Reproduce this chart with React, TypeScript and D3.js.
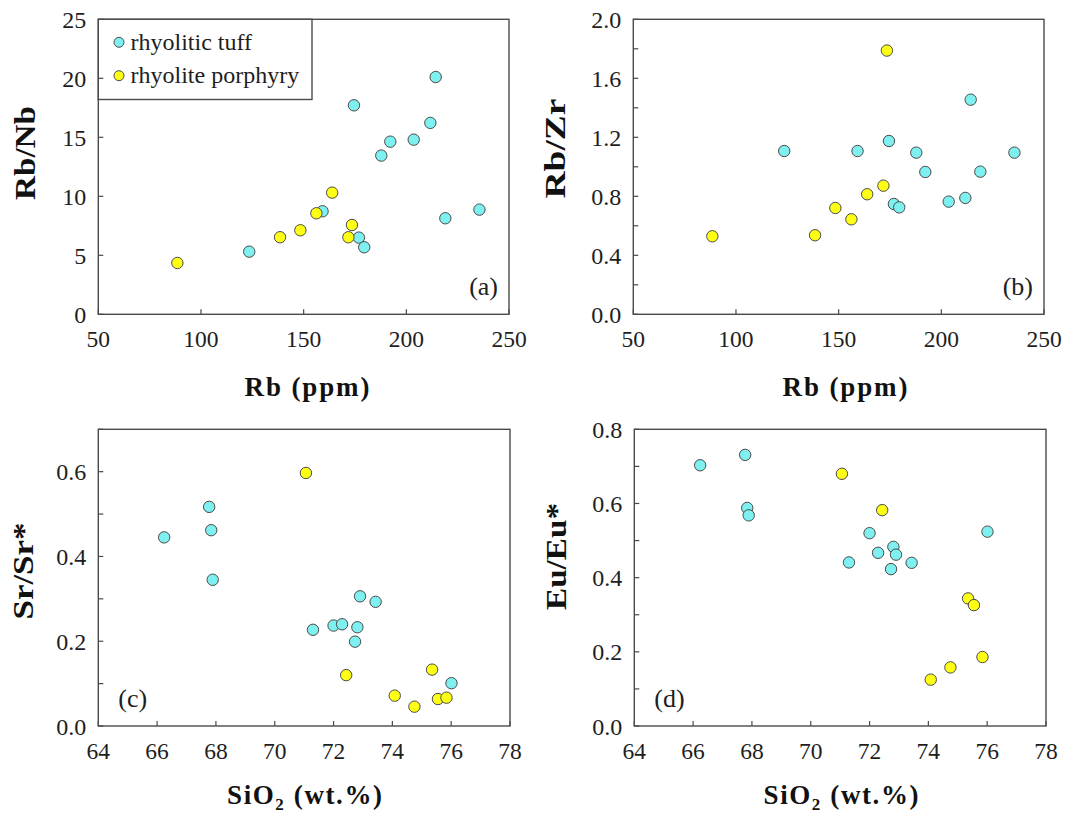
import React from "react";
import * as d3 from "d3";

// ---- Data ----
const rbTuff = [123.5, 159.2, 174.5, 176.9, 179.5, 187.8, 192.2, 203.6, 211.7, 214.3, 219.0, 235.6];
const rbNbTuff = [5.31, 8.73, 17.71, 6.5, 5.68, 13.45, 14.63, 14.8, 16.22, 20.11, 8.14, 8.87];
const rbZrTuff = [1.107, 1.107, 1.175, 0.748, 0.725, 1.096, 0.965, 0.764, 0.789, 1.455, 0.967, 1.096];

const rbPorph = [88.5, 138.5, 148.4, 156.2, 163.9, 171.8, 173.5];
const rbNbPorph = [4.35, 6.53, 7.12, 8.56, 10.31, 6.53, 7.57];
const rbZrPorph = [0.529, 0.536, 0.721, 0.644, 0.814, 0.872, 1.788];

const sioTuff = [66.24, 67.77, 67.84, 67.89, 71.3, 72.0, 72.29, 72.73, 72.81, 72.9, 73.43, 76.01];
const srTuff = [0.445, 0.517, 0.462, 0.345, 0.227, 0.237, 0.24, 0.199, 0.233, 0.306, 0.293, 0.101];
const euTuff = [0.703, 0.731, 0.588, 0.568, 0.441, 0.52, 0.467, 0.423, 0.483, 0.462, 0.44, 0.524];

const sioPorph = [71.06, 72.43, 74.08, 74.75, 75.35, 75.55, 75.84];
const srPorph = [0.597, 0.12, 0.0716, 0.0456, 0.133, 0.0637, 0.0669];
const euPorph = [0.68, 0.582, 0.125, 0.158, 0.344, 0.326, 0.186];

const seriesNames = ["rhyolitic tuff", "rhyolite porphyry"];
const rbTicks = [50, 100, 150, 200, 250];
const sioTicks = [64, 66, 68, 70, 72, 74, 76, 78];

const CYAN = "#7ef0f0";
const YELLOW = "#ffff14";
const FRAME = "#4a4a4a";
const SERIF = "Liberation Serif, Tinos, DejaVu Serif, serif";

type PanelProps = {
  x0: number; x1: number; y0: number; y1: number;
  xDomain: [number, number]; yDomain: [number, number];
  xTicks: number[]; yTicks: number[]; yLabelEvery: number; yFmt: (v: number) => string;
  tuffX: number[]; tuffY: number[]; porX: number[]; porY: number[];
  tag: string; tagLeft: boolean;
  xTitle: React.ReactNode; xTitleCx: number; xTitleY: number; xTitleLen: number;
  yTitle: string; yTitleX: number; yTitleCy: number; yTitleLen: number;
  legend?: boolean;
};

function Panel(p: PanelProps) {
  const xs = d3.scaleLinear().domain(p.xDomain).range([p.x0, p.x1]);
  const ys = d3.scaleLinear().domain(p.yDomain).range([p.y1, p.y0]);
  const TL = 5;
  const R = 5.7;
  const txt = { fontFamily: SERIF } as React.CSSProperties;
  return (
    <g>
      <rect x={p.x0} y={p.y0} width={p.x1 - p.x0} height={p.y1 - p.y0} fill="none" stroke={FRAME} strokeWidth={1.4} />
      {p.xTicks.map((t) => (
        <g key={"xt" + t}>
          <line x1={xs(t)} x2={xs(t)} y1={p.y1} y2={p.y1 - TL} stroke={FRAME} strokeWidth={1.2} />
          <text x={xs(t)} y={p.y1 + 33} textAnchor="middle" style={txt} fontSize={23.5} fill="#1e1e1e">
            {t}
          </text>
        </g>
      ))}
      {p.yTicks.map((t, i) => (
        <g key={"yt" + i}>
          <line x1={p.x0} x2={p.x0 + TL} y1={ys(t)} y2={ys(t)} stroke={FRAME} strokeWidth={1.2} />
          {i % p.yLabelEvery === 0 ? (
            <text x={p.x0 - 12} y={ys(t)} dy="0.36em" textAnchor="end" style={txt} fontSize={24} fill="#1e1e1e">
              {p.yFmt(t)}
            </text>
          ) : null}
        </g>
      ))}
      {p.tuffX.map((v, i) => (
        <circle key={"c" + i} cx={xs(v)} cy={ys(p.tuffY[i])} r={R} fill={CYAN} stroke="#4a4a4a" strokeWidth={1} />
      ))}
      {p.porX.map((v, i) => (
        <circle key={"y" + i} cx={xs(v)} cy={ys(p.porY[i])} r={R} fill={YELLOW} stroke="#4a4a4a" strokeWidth={1} />
      ))}
      <text
        x={p.tagLeft ? p.x0 + 20 : p.x1 - 11}
        y={p.y1 - 19}
        textAnchor={p.tagLeft ? "start" : "end"}
        style={txt}
        fontSize={26}
        fill="#1e1e1e"
      >
        {p.tag}
      </text>
      {p.legend ? (
        <g>
          <rect x={p.x0} y={p.y0} width={312 - p.x0} height={99.5 - p.y0} fill="none" stroke={FRAME} strokeWidth={1.4} />
          <circle cx={119} cy={42.3} r={5} fill={CYAN} stroke="#4a4a4a" strokeWidth={1} />
          <circle cx={119} cy={75.7} r={5} fill={YELLOW} stroke="#4a4a4a" strokeWidth={1} />
          <text x={130.5} y={49.5} style={txt} fontSize={24} fill="#1e1e1e">{seriesNames[0]}</text>
          <text x={130.5} y={82.5} style={txt} fontSize={24} fill="#1e1e1e">{seriesNames[1]}</text>
        </g>
      ) : null}
      <text
        x={p.xTitleCx}
        y={p.xTitleY}
        textAnchor="middle"
        style={txt}
        fontWeight="bold"
        fontSize={27}
        fill="#111"
        textLength={p.xTitleLen}
      >
        {p.xTitle}
      </text>
      <text
        transform={`translate(${p.yTitleX},${p.yTitleCy}) rotate(-90)`}
        textAnchor="middle"
        style={txt}
        fontWeight="bold"
        fontSize={30}
        fill="#111"
        textLength={p.yTitleLen}
        lengthAdjust="spacingAndGlyphs"
      >
        {p.yTitle}
      </text>
    </g>
  );
}

const rbTitle = "Rb (ppm)";
const sioTitle = (
  <>
    SiO<tspan fontSize={17} dy={6}>2</tspan>
    <tspan dy={-6}> (wt.%)</tspan>
  </>
);

export default function App() {
  const r25 = d3.range(0, 25.001, 5);
  const r2 = d3.range(0, 11).map((i) => i * 0.2);
  const r07 = d3.range(0, 8).map((i) => i * 0.1);
  const r08 = d3.range(0, 9).map((i) => i * 0.1);
  return (
    <svg width={1072} height={814} style={{ position: "absolute", left: 0, top: 0, background: "#fff" }}>
      <rect x={0} y={0} width={1072} height={814} fill="#fff" />
      <Panel
        x0={98.3} x1={509} y0={19.3} y1={314.3}
        xDomain={[50, 250]} yDomain={[0, 25]}
        xTicks={rbTicks} yTicks={r25} yLabelEvery={1} yFmt={(v) => String(v)}
        tuffX={rbTuff} tuffY={rbNbTuff} porX={rbPorph} porY={rbNbPorph}
        tag="(a)" tagLeft={false}
        xTitle={rbTitle} xTitleCx={307} xTitleY={396} xTitleLen={125}
        yTitle="Rb/Nb" yTitleX={35} yTitleCy={153} yTitleLen={94}
        legend
      />
      <Panel
        x0={633.3} x1={1044} y0={19.3} y1={314.3}
        xDomain={[50, 250]} yDomain={[0, 2]}
        xTicks={rbTicks} yTicks={r2} yLabelEvery={2} yFmt={(v) => v.toFixed(1)}
        tuffX={rbTuff} tuffY={rbZrTuff} porX={rbPorph} porY={rbZrPorph}
        tag="(b)" tagLeft={false}
        xTitle={rbTitle} xTitleCx={845} xTitleY={396} xTitleLen={125}
        yTitle="Rb/Zr" yTitleX={565} yTitleCy={148.5} yTitleLen={100}
      />
      <Panel
        x0={98.3} x1={510} y0={429.3} y1={726}
        xDomain={[64, 78]} yDomain={[0, 0.7]}
        xTicks={sioTicks} yTicks={r07} yLabelEvery={2} yFmt={(v) => v.toFixed(1)}
        tuffX={sioTuff} tuffY={srTuff} porX={sioPorph} porY={srPorph}
        tag="(c)" tagLeft={true}
        xTitle={sioTitle} xTitleCx={304.5} xTitleY={804} xTitleLen={155}
        yTitle="Sr/Sr*" yTitleX={33} yTitleCy={571} yTitleLen={97}
      />
      <Panel
        x0={634.3} x1={1046} y0={429.3} y1={726}
        xDomain={[64, 78]} yDomain={[0, 0.8]}
        xTicks={sioTicks} yTicks={r08} yLabelEvery={2} yFmt={(v) => v.toFixed(1)}
        tuffX={sioTuff} tuffY={euTuff} porX={sioPorph} porY={euPorph}
        tag="(d)" tagLeft={true}
        xTitle={sioTitle} xTitleCx={841} xTitleY={804} xTitleLen={155}
        yTitle="Eu/Eu*" yTitleX={566} yTitleCy={556.5} yTitleLen={107}
      />
    </svg>
  );
}
